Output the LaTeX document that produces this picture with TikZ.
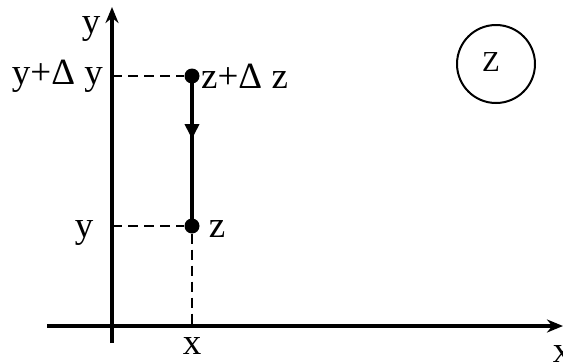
\documentclass[tikz,border=0pt]{standalone}
\usepackage{fontspec}
\setmainfont{Liberation Serif}
\usetikzlibrary{arrows.meta,decorations.markings}
\begin{document}
\begin{tikzpicture}[x=1pt,y=-1pt,
  lbl/.style={inner sep=0pt,font=\fontsize{37}{40}\selectfont},
  axis/.style={line width=3.4pt,-{Stealth[length=16pt,width=13pt]}},
  guide/.style={line width=2.1pt,dash pattern=on 10pt off 6pt},
  dot/.style={circle,fill=black,inner sep=0pt,minimum size=15pt}]
\useasboundingbox (0,0) rectangle (563,362);
\coordinate (yb) at (112,343);
\coordinate (yt) at (112,7);
\coordinate (xl) at (47,326);
\coordinate (xr) at (563,326);
\draw[axis] (yb) -- (yt);
\draw[axis] (xl) -- (xr);
\node[dot] (p2) at (192,76) {};
\node[dot] (p1) at (192,226) {};
\coordinate (ya2) at (112,76);
\coordinate (ya1) at (112,226);
\coordinate (xa) at (192,326);
\draw[guide] (ya2) -- (p2);
\draw[guide] (ya1) -- (p1);
\draw[guide] (p1) -- (xa);
\draw[line width=4.8pt,decoration={markings,mark=at position 0.42 with {\arrow{Triangle[length=15pt,width=14pt]}}},postaction={decorate}] (p2.center) -- (p1.center);
\node[lbl] (ly) at (91,29) {y};
\node[lbl,anchor=east] (lydy) at (103,76) {y+Δ y};
\node[lbl,anchor=west] (lzdz) at (201,76) {z+Δ z};
\node[lbl] (ly1) at (84,233) {y};
\node[lbl] (lz) at (217,229) {z};
\node[lbl] (lx) at (192,346) {x};
\node[lbl] (lx2) at (562,354) {x};
\node[draw,circle,line width=2pt,minimum size=78pt,inner sep=0pt] (zc) at (496,64) {};
\node[inner sep=0pt,font=\fontsize{29}{32}\selectfont] (lZ) at (491,62) {Z};
\end{tikzpicture}
\end{document}
